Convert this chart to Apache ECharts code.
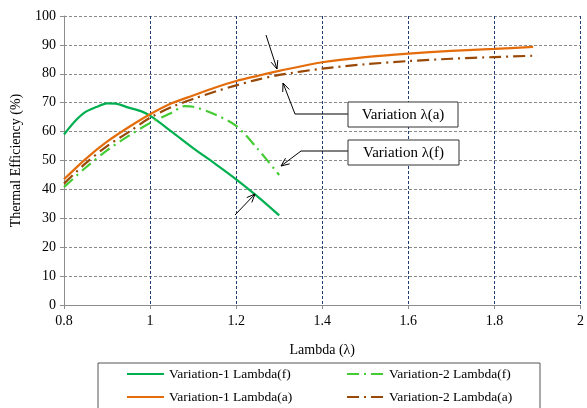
<!DOCTYPE html>
<html>
<head>
<meta charset="utf-8">
<script src="https://cdn.jsdelivr.net/npm/echarts@6/dist/echarts.min.js"></script>
<style>
  html, body { margin: 0; padding: 0; background: #fff; }
  #chart { width: 587px; height: 408px; }
</style>
</head>
<body>
<div id="chart"></div>
<script>
// lambda values and thermal efficiency (%)
const xV1f = [0.8, 0.825, 0.85, 0.875, 0.9, 0.92, 0.95, 0.98, 1.0, 1.05, 1.1, 1.15, 1.2, 1.25, 1.3];
const yV1f = [59, 63.5, 66.8, 68.5, 69.8, 69.7, 68.3, 67, 65.5, 60, 54.3, 49, 43.5, 37.5, 31];

const xV2f = [0.8, 0.85, 0.9, 0.95, 1.0, 1.05, 1.08, 1.1, 1.15, 1.2, 1.25, 1.3];
const yV2f = [40.8, 47.5, 53.5, 58.5, 63, 66.5, 68.8, 68.6, 66, 62, 54, 45];

const xV1a = [0.8, 0.85, 0.9, 0.95, 1.0, 1.05, 1.1, 1.15, 1.2, 1.25, 1.3, 1.4, 1.5, 1.6, 1.7, 1.8, 1.89];
const yV1a = [43.5, 50.5, 56.5, 61.5, 66, 69.8, 72.5, 75.2, 77.5, 79.3, 81, 84, 85.8, 87, 87.9, 88.6, 89.3];

const xV2a = [0.8, 0.85, 0.9, 0.95, 1.0, 1.05, 1.1, 1.15, 1.2, 1.25, 1.3, 1.4, 1.5, 1.6, 1.7, 1.8, 1.9];
const yV2a = [42, 49, 55, 59.8, 64.8, 68.5, 71.3, 73.8, 76, 78, 79.6, 81.8, 83.3, 84.4, 85.2, 85.8, 86.3];

const names = [
  "Variation-1 Lambda(f)",
  "Variation-2 Lambda(f)",
  "Variation-1 Lambda(a)",
  "Variation-2 Lambda(a)",
];

const FONT = "Liberation Serif";

function zip(xs, ys) {
  return xs.map((x, i) => [x, ys[i]]);
}

function lineSeries(name, data, color, type) {
  return {
    name: name,
    type: "line",
    data: data,
    symbol: "none",
    smooth: 0.3,
    lineStyle: { color: color, width: 2.2, type: type },
    itemStyle: { color: color },
    z: 3,
  };
}

// arrow: a polyline ending in an open V head at the last point
function arrow(points) {
  const n = points.length;
  const [x1, y1] = points[n - 2];
  const [x2, y2] = points[n - 1];
  const a = Math.atan2(y2 - y1, x2 - x1);
  const L = 9, w = 0.4;
  const h1 = [x2 - L * Math.cos(a - w), y2 - L * Math.sin(a - w)];
  const h2 = [x2 - L * Math.cos(a + w), y2 - L * Math.sin(a + w)];
  const st = { stroke: "#000", lineWidth: 1, fill: null };
  return [
    { type: "polyline", shape: { points: points }, style: st, z: 10 },
    { type: "polyline", shape: { points: [h1, [x2, y2], h2] }, style: st, z: 10 },
  ];
}

function textBox(x, y, w, h, text) {
  return [
    { type: "rect", shape: { x: x, y: y, width: w, height: h },
      style: { fill: "#fff", stroke: "#333", lineWidth: 1 }, z: 10 },
    { type: "text", x: x + w / 2, y: y + h / 2 + 1,
      style: { text: text, font: "15px " + FONT, fill: "#000", align: "center", verticalAlign: "middle" }, z: 11 },
  ];
}

function legendColumn(left, data) {
  return {
    orient: "vertical",
    left: left,
    top: 367,
    height: 60,
    padding: 0,
    itemWidth: 37,
    itemHeight: 14,
    itemGap: 9,
    itemStyle: { opacity: 0 },
    data: data,
    textStyle: { fontFamily: FONT, fontSize: 13.5, color: "#000" },
  };
}

const chart = echarts.init(document.getElementById("chart"), null, { renderer: "canvas" });

const option = {
  animation: false,
  backgroundColor: "#fff",
  textStyle: { fontFamily: FONT },
  grid: { left: 64, right: 2, top: 16, bottom: 103 },
  xAxis: {
    type: "value",
    min: 0.8,
    max: 2,
    interval: 0.2,
    name: "Lambda (λ)",
    nameLocation: "middle",
    nameGap: 38,
    nameTextStyle: { fontFamily: FONT, fontSize: 14, color: "#000" },
    axisLine: { lineStyle: { color: "#8c8c8c", width: 1 } },
    axisTick: { show: true, length: 4, lineStyle: { color: "#8c8c8c" } },
    axisLabel: {
      fontFamily: FONT, fontSize: 14, color: "#000", margin: 9,
      formatter: (v) => String(+v.toFixed(1)),
    },
    splitLine: { show: true, lineStyle: { color: "#1f3d74", type: [3, 2], width: 1 } },
  },
  yAxis: {
    type: "value",
    min: 0,
    max: 100,
    interval: 10,
    name: "Thermal Efficiency (%)",
    nameLocation: "middle",
    nameGap: 41,
    nameTextStyle: { fontFamily: FONT, fontSize: 14, color: "#000" },
    axisLine: { show: true, lineStyle: { color: "#8c8c8c", width: 1 } },
    axisTick: { show: true, length: 4, lineStyle: { color: "#8c8c8c" } },
    axisLabel: { fontFamily: FONT, fontSize: 14, color: "#000", margin: 8 },
    splitLine: { show: true, lineStyle: { color: "#8a8a8a", type: [3, 2], width: 1 } },
  },
  legend: [
    legendColumn(126, [names[0], names[2]]),
    legendColumn(346, [names[1], names[3]]),
  ],
  series: [
    lineSeries(names[0], zip(xV1f, yV1f), "#00b050", "solid"),
    lineSeries(names[1], zip(xV2f, yV2f), "#45cc35", [12, 5, 2, 5]),
    lineSeries(names[2], zip(xV1a, yV1a), "#e46c0a", "solid"),
    lineSeries(names[3], zip(xV2a, yV2a), "#984807", [12, 5, 2, 5]),
  ],
  graphic: [
    { type: "rect", shape: { x: 98, y: 363, width: 442, height: 50 },
      style: { fill: null, stroke: "#555", lineWidth: 1 }, z: 1 },
    ...arrow([[266, 35], [277, 69]]),
    ...arrow([[348, 114], [295, 114], [283, 83]]),
    ...arrow([[348, 151], [301, 151], [281, 166]]),
    ...arrow([[235, 215], [255, 194]]),
    ...textBox(348, 102, 110, 25, "Variation λ(a)"),
    ...textBox(348, 140, 111, 25, "Variation λ(f)"),
  ],
};

chart.setOption(option);
</script>
</body>
</html>
